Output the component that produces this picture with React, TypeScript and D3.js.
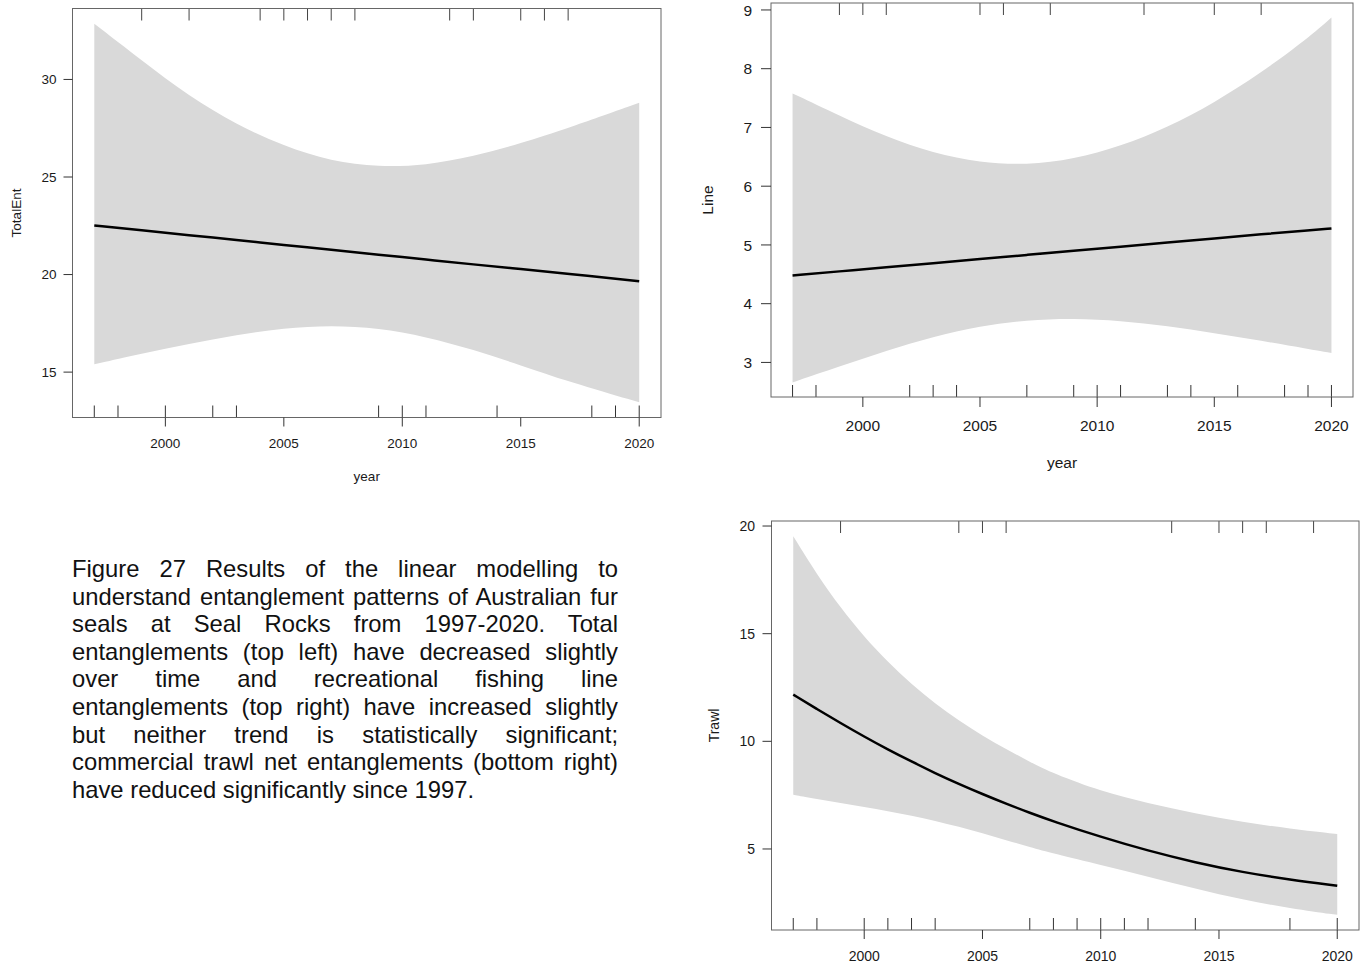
import React, { useLayoutEffect, useRef, useState } from "react";
import * as d3 from "d3";

// ---------- data ----------
const xTickYears = [2000, 2005, 2010, 2015, 2020];

// Panel 1: TotalEnt
const totalYears = [1997, 1999, 2001, 2003, 2005, 2007, 2009, 2011, 2013, 2015, 2017, 2020];
const totalFit = [22.52, 22.27, 22.02, 21.77, 21.52, 21.27, 21.02, 20.77, 20.52, 20.28, 20.04, 19.66];
const totalUpper = [32.86, 30.98, 29.14, 27.69, 26.58, 25.8, 25.51, 25.6, 26.05, 26.72, 27.5, 28.8];
const totalLower = [15.4, 15.95, 16.45, 16.9, 17.25, 17.4, 17.25, 16.82, 16.15, 15.35, 14.52, 13.45];
const totalRugBottom = [1997, 1998, 2000, 2002, 2003, 2009, 2010, 2011, 2014, 2018, 2019, 2020];
const totalRugTop = [1999, 2001, 2004, 2005, 2006, 2007, 2008, 2012, 2013, 2015, 2016, 2017];
const totalYTicks = [15, 20, 25, 30];

// Panel 2: Line
const lineYears = [1997, 1999, 2001, 2003, 2005, 2007, 2009, 2011, 2013, 2015, 2017, 2019, 2020];
const lineFit = [4.48, 4.55, 4.62, 4.69, 4.76, 4.83, 4.9, 4.97, 5.04, 5.11, 5.18, 5.25, 5.28];
const lineUpper = [7.58, 7.2, 6.84, 6.56, 6.4, 6.36, 6.46, 6.68, 7.0, 7.42, 7.93, 8.52, 8.87];
const lineLower = [2.66, 2.93, 3.2, 3.44, 3.62, 3.72, 3.75, 3.71, 3.62, 3.5, 3.37, 3.23, 3.16];
const lineRugBottom = [1997, 1998, 2002, 2003, 2004, 2007, 2009, 2010, 2011, 2013, 2014, 2016, 2018, 2019, 2020];
const lineRugTop = [1999, 2000, 2001, 2005, 2006, 2008, 2012, 2015, 2017];
const lineYTicks = [3, 4, 5, 6, 7, 8, 9];

// Panel 3: Trawl
const trawlYears = [1997, 1998, 1999, 2000, 2001, 2002, 2003, 2004, 2005, 2006, 2007, 2008, 2010, 2012, 2014, 2016, 2018, 2020];
const trawlFit = [12.17, 11.5, 10.85, 10.22, 9.62, 9.06, 8.52, 8.02, 7.55, 7.1, 6.68, 6.28, 5.56, 4.92, 4.37, 3.92, 3.57, 3.29];
const trawlUpper = [19.53, 17.75, 16.2, 14.85, 13.68, 12.65, 11.75, 10.96, 10.26, 9.64, 9.05, 8.5, 7.68, 7.12, 6.65, 6.25, 5.94, 5.69];
const trawlLower = [7.52, 7.32, 7.13, 6.95, 6.76, 6.55, 6.31, 6.03, 5.73, 5.41, 5.09, 4.79, 4.25, 3.71, 3.16, 2.64, 2.25, 1.94];
const trawlRugBottom = [1997, 1998, 2000, 2001, 2002, 2003, 2007, 2008, 2009, 2010, 2011, 2012, 2014, 2018, 2020];
const trawlRugTop = [1999, 2004, 2005, 2006, 2013, 2015, 2016, 2017, 2019];
const trawlYTicks = [5, 10, 15, 20];

const captionLines = [
  "Figure 27 Results of the linear modelling to",
  "understand entanglement patterns of Australian fur",
  "seals at Seal Rocks from 1997-2020. Total",
  "entanglements (top left) have decreased slightly",
  "over time and recreational fishing line",
  "entanglements (top right) have increased slightly",
  "but neither trend is statistically significant;",
  "commercial trawl net entanglements (bottom right)",
  "have reduced significantly since 1997.",
];

const FONT = "'Liberation Sans', Arial, Helvetica, sans-serif";

type PanelProps = {
  x0: number; x1: number; y0: number; y1: number;
  years: number[]; fit: number[]; upper: number[]; lower: number[];
  rugTop: number[]; rugBottom: number[]; yTicks: number[];
  ylabel: string; xlabel?: string;
  fontSize: number; tickLen: number;
  xLabelBaseline: number; xTitleBaseline?: number;
  yLabelRight: number; yTitleX: number;
};

function Panel(p: PanelProps) {
  const ext = d3.extent(p.years) as [number, number];
  const xpad = (ext[1] - ext[0]) * 0.04;
  const x = d3.scaleLinear().domain([ext[0] - xpad, ext[1] + xpad]).range([p.x0, p.x1]);
  const ymin = d3.min(p.lower) as number;
  const ymax = d3.max(p.upper) as number;
  const ypad = (ymax - ymin) * 0.04;
  const y = d3.scaleLinear().domain([ymin - ypad, ymax + ypad]).range([p.y1, p.y0]);

  const idx = p.years.map((_, i) => i);
  const area = d3
    .area<number>()
    .x((i) => x(p.years[i]))
    .y0((i) => y(p.lower[i]))
    .y1((i) => y(p.upper[i]))
    .curve(d3.curveBasis);
  const line = d3
    .line<number>()
    .x((i) => x(p.years[i]))
    .y((i) => y(p.fit[i]))
    .curve(d3.curveBasis);

  const rugLen = 12;
  const cy = (p.y0 + p.y1) / 2;
  const cx = (p.x0 + p.x1) / 2;
  return (
    <g fontFamily={FONT} fontSize={p.fontSize} fill="#1a1a1a">
      <path d={area(idx) || ""} fill="#d9d9d9" stroke="none" />
      <path d={line(idx) || ""} fill="none" stroke="#000" strokeWidth={2.5} />
      {p.rugBottom.map((yr) => (
        <line key={"b" + yr} x1={x(yr)} x2={x(yr)} y1={p.y1} y2={p.y1 - rugLen} stroke="#333" strokeWidth={1} />
      ))}
      {p.rugTop.map((yr) => (
        <line key={"t" + yr} x1={x(yr)} x2={x(yr)} y1={p.y0} y2={p.y0 + rugLen} stroke="#444" strokeWidth={1} />
      ))}
      <rect x={p.x0} y={p.y0} width={p.x1 - p.x0} height={p.y1 - p.y0} fill="none" stroke="#666" strokeWidth={1} />
      {xTickYears.map((yr) => (
        <g key={"x" + yr}>
          <line x1={x(yr)} x2={x(yr)} y1={p.y1} y2={p.y1 + p.tickLen} stroke="#333" strokeWidth={1} />
          <text x={x(yr)} y={p.xLabelBaseline} textAnchor="middle">{yr}</text>
        </g>
      ))}
      {p.yTicks.map((v) => (
        <g key={"y" + v}>
          <line x1={p.x0} x2={p.x0 - p.tickLen} y1={y(v)} y2={y(v)} stroke="#333" strokeWidth={1} />
          <text x={p.yLabelRight} y={y(v)} dy="0.36em" textAnchor="end">{v}</text>
        </g>
      ))}
      {p.xlabel && p.xTitleBaseline !== undefined && (
        <text x={cx} y={p.xTitleBaseline} textAnchor="middle">{p.xlabel}</text>
      )}
      <text
        transform={`translate(${p.yTitleX},${cy}) rotate(-90)`}
        textAnchor="middle"
        dy="0.36em"
      >
        {p.ylabel}
      </text>
    </g>
  );
}

function Caption() {
  const left = 72;
  const width = 546;
  const top = 577;
  const lh = 27.6;
  const fs = 23.8;
  const refs = useRef<(SVGTextElement | null)[]>([]);
  const [spacing, setSpacing] = useState<number[]>(captionLines.map(() => 0));
  useLayoutEffect(() => {
    const s = captionLines.map((ln, i) => {
      if (i === captionLines.length - 1) return 0;
      const el = refs.current[i];
      if (!el) return 0;
      const w = el.getComputedTextLength();
      const n = ln.split(" ").length - 1;
      return n > 0 ? (width - w) / n : 0;
    });
    setSpacing(s);
  }, []);
  return (
    <g fontFamily={FONT} fontSize={fs} fill="#111">
      {captionLines.map((ln, i) => (
        <text
          key={i}
          ref={(el) => { refs.current[i] = el; }}
          x={left}
          y={top + i * lh}
          style={{ wordSpacing: `${spacing[i]}px`, whiteSpace: "pre" }}
        >
          {ln}
        </text>
      ))}
    </g>
  );
}

export default function App() {
  return (
    <svg
      width={1367}
      height={966}
      style={{ position: "absolute", left: 0, top: 0, background: "#fff" }}
    >
      <rect x={0} y={0} width={1367} height={966} fill="#fff" />
      <Panel
        x0={72.5} x1={661} y0={8.5} y1={417.5}
        years={totalYears} fit={totalFit} upper={totalUpper} lower={totalLower}
        rugTop={totalRugTop} rugBottom={totalRugBottom} yTicks={totalYTicks}
        ylabel="TotalEnt" xlabel="year"
        fontSize={13.5} tickLen={9}
        xLabelBaseline={448} xTitleBaseline={481}
        yLabelRight={56.5} yTitleX={16}
      />
      <Panel
        x0={771} x1={1353} y0={3} y1={397}
        years={lineYears} fit={lineFit} upper={lineUpper} lower={lineLower}
        rugTop={lineRugTop} rugBottom={lineRugBottom} yTicks={lineYTicks}
        ylabel="Line" xlabel="year"
        fontSize={15.5} tickLen={10}
        xLabelBaseline={430.5} xTitleBaseline={467.5}
        yLabelRight={752} yTitleX={707}
      />
      <Panel
        x0={771.5} x1={1359} y0={521} y1={930}
        years={trawlYears} fit={trawlFit} upper={trawlUpper} lower={trawlLower}
        rugTop={trawlRugTop} rugBottom={trawlRugBottom} yTicks={trawlYTicks}
        ylabel="Trawl"
        fontSize={14} tickLen={9}
        xLabelBaseline={961}
        yLabelRight={755} yTitleX={714}
      />
      <Caption />
    </svg>
  );
}
